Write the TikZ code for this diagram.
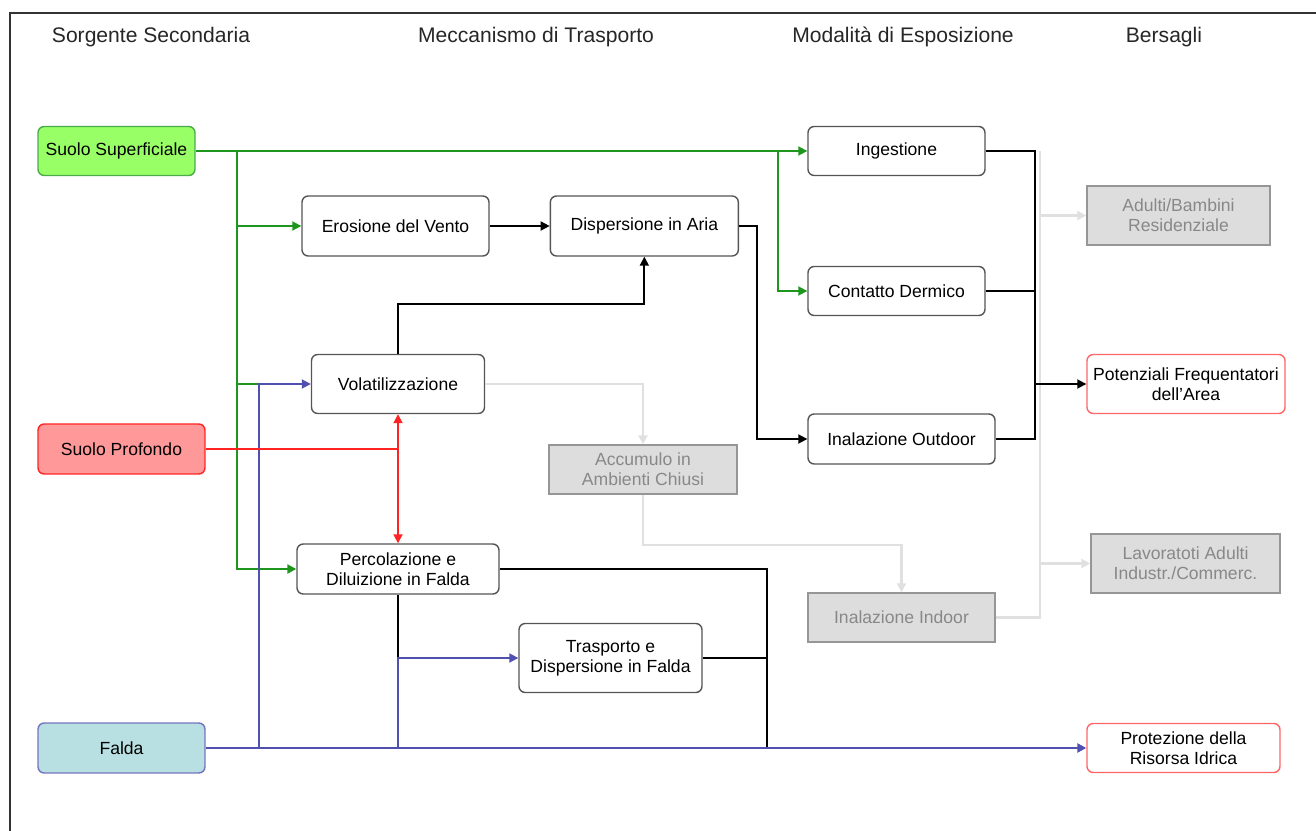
\documentclass[tikz,border=0pt]{standalone}
\usepackage{fontspec}
\setmainfont{Liberation Sans}
\usepackage{tikz}
\usetikzlibrary{arrows.meta,positioning,calc}
\definecolor{verde}{RGB}{30,150,30}
\definecolor{verdechiaro}{RGB}{153,255,102}
\definecolor{rosso}{RGB}{255,35,35}
\definecolor{rosa}{RGB}{255,153,153}
\definecolor{blu}{RGB}{80,80,175}
\definecolor{azzurro}{RGB}{184,224,227}
\definecolor{grigio}{RGB}{221,221,221}
\definecolor{grigiobordo}{RGB}{150,150,150}
\definecolor{grigiotesto}{RGB}{136,136,136}
\definecolor{grigiolinea}{RGB}{224,224,224}
\definecolor{bordo}{RGB}{85,85,85}

\begin{document}
\begin{tikzpicture}[x=0.02cm,y=-0.02cm,
sorgente/.style={draw,rounded corners=3.5pt,line width=0.8pt,minimum width=3.34cm,minimum height=1cm,align=center,font=\fontsize{10}{11.5}\selectfont},
processo/.style={draw=bordo,rounded corners=3.5pt,fill=white,line width=0.8pt,minimum height=1cm,align=center,font=\fontsize{10}{11.5}\selectfont},
inattivo/.style={draw=grigiobordo,fill=grigio,text=grigiotesto,line width=0.8pt,minimum height=0.98cm,align=center,font=\fontsize{10}{11.5}\selectfont},
bersaglio/.style={draw=red!60,rounded corners=3.5pt,fill=white,line width=0.8pt,minimum height=0.98cm,align=center,font=\fontsize{10}{11.5}\selectfont},
titolo/.style={font=\fontsize{12}{14}\selectfont,text=black!85},
arr/.style={-{Triangle[length=1.8mm,width=1.8mm]},line width=1pt},
linea/.style={line width=1pt}
]
\useasboundingbox (0,0) rectangle (1316,831);
\draw[line width=1pt,black!80] (10,831) -- (10,13) -- (1316,13);

% titoli delle colonne
\node[titolo] (t1) at (151,37) {Sorgente Secondaria};
\node[titolo] (t2) at (536,37) {Meccanismo di Trasporto};
\node[titolo] (t3) at (903,37) {Modalità di Esposizione};
\node[titolo] (t4) at (1164,37) {Bersagli};

% sorgenti
\node[sorgente,draw=verde!80,fill=verdechiaro,minimum width=3.14cm,minimum height=0.98cm] (sup) at (116.5,151) {Suolo Superficiale};
\node[sorgente,draw=rosso,fill=rosa] (prof) at (121.5,449) {Suolo Profondo};
\node[sorgente,draw=blu!80,fill=azzurro] (falda) at (121.5,748) {Falda};

% meccanismi di trasporto
\node[processo,minimum width=3.74cm,minimum height=1.2cm] (erosione) at (395.5,226) {Erosione del Vento};
\node[processo,minimum width=3.76cm,minimum height=1.2cm,right=12mm of erosione] (dispersione) {Dispersione in Aria};
\node[processo,minimum width=3.46cm,minimum height=1.18cm] (volatil) at (398,384) {Volatilizzazione};
\node[processo,minimum width=4.04cm] (percol) at (398,569) {Percolazione e\\Diluizione in Falda};
\node[processo,minimum width=3.66cm,minimum height=1.38cm] (trasporto) at (610.5,658) {Trasporto e\\Dispersione in Falda};
\node[inattivo,minimum width=3.76cm] (accumulo) at (643,469.5) {Accumulo in\\Ambienti Chiusi};

% modalita di esposizione
\node[processo,minimum width=3.54cm,minimum height=0.98cm] (ingestione) at (896.5,151) {Ingestione};
\node[processo,minimum width=3.54cm,minimum height=0.98cm] (contatto) at (896.5,291) {Contatto Dermico};
\node[processo,minimum width=3.74cm] (outdoor) at (901.5,439) {Inalazione Outdoor};
\node[inattivo,minimum width=3.74cm] (indoor) at (901.5,617.5) {Inalazione Indoor};

% bersagli
\node[inattivo,minimum width=3.66cm,minimum height=1.18cm] (adulti) at (1178.5,215.5) {Adulti/Bambini\\Residenziale};
\node[bersaglio,minimum width=3.96cm,minimum height=1.18cm] (frequent) at (1186,384) {Potenziali Frequentatori\\dell’Area};
\node[inattivo,minimum width=3.78cm,minimum height=1.18cm] (lavoratori) at (1185.5,563.5) {Lavoratoti Adulti\\Industr./Commerc.};
\node[bersaglio,minimum width=3.86cm] (protezione) at (1183.5,748) {Protezione della\\Risorsa Idrica};

% punti di snodo
\coordinate (g1) at (778,151);
\coordinate (g2) at (237,151);
\coordinate (b1) at (259,748);
\coordinate (b2) at (398,748);
\coordinate (c1) at (767,748);
\coordinate (e1) at (1035,151);
\coordinate (e2) at (1040,151);
\coordinate (r1) at (398,449);

% percorsi non attivi
\draw[grigiolinea,line width=1.3pt] (indoor.east) -| (e2);
\draw[arr,grigiolinea,line width=1.3pt] (e2 |- adulti.west) -- (adulti.west);
\draw[arr,grigiolinea,line width=1.3pt] (e2 |- lavoratori.west) -- (lavoratori.west);
\draw[arr,grigiolinea,line width=1.3pt] (volatil.east) -| (accumulo.north);
\draw[arr,grigiolinea,line width=1.3pt] (accumulo.south) -- ++(0,50) -| (indoor.north);

% suolo superficiale
\draw[arr,verde] (sup.east) -- (ingestione.west);
\draw[arr,verde] (g1) |- (contatto.west);
\draw[arr,verde,line width=1.2pt] (g2) |- (percol.west);
\draw[arr,verde] (g2 |- erosione.west) -- (erosione.west);
\draw[linea,verde] (g2 |- volatil.west) -- (b1 |- volatil.west);

% trasporto in aria
\draw[arr] (erosione) -- (dispersione);
\draw[arr] (volatil.north) -- ++(0,-50) -| (dispersione.south);
\draw[arr] (dispersione.east) -- ++(18,0) |- (outdoor.west);

% falda
\draw[linea] (percol.south) -- (percol.south |- trasporto.west);
\draw[linea] (percol.east) -| (c1);
\draw[linea] (trasporto.east) -- (trasporto.east -| c1);
\draw[arr,blu,line width=1.4pt] (falda.east) -- (protezione.west);
\draw[arr,blu] (b1) |- (volatil.west);
\draw[arr,blu] (b2) |- (trasporto.west);

% suolo profondo
\draw[linea,rosso] (prof.east) -- (r1);
\draw[arr,rosso] (r1) -- (volatil.south);
\draw[arr,rosso] (r1) -- (percol.north);

% esposizione
\draw[linea] (ingestione.east) -- (e1) -- (e1 |- outdoor.east) -- (outdoor.east);
\draw[linea] (contatto.east) -- (e1 |- contatto.east);
\draw[arr] (e1 |- frequent.west) -- (frequent.west);
\end{tikzpicture}
\end{document}
